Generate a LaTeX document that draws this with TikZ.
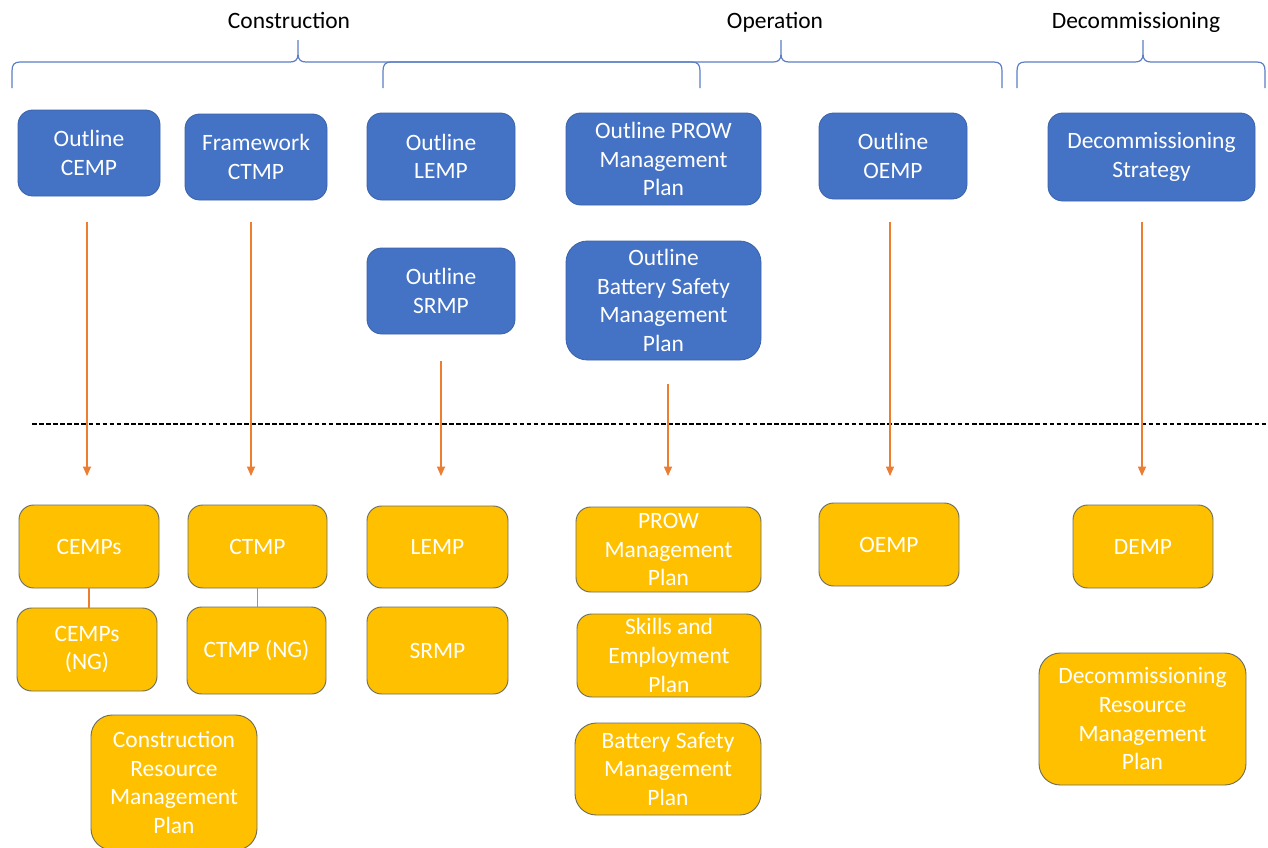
\documentclass[tikz,border=0pt]{standalone}
\usepackage{fontspec}
\setmainfont{Carlito}
\usetikzlibrary{arrows.meta}
\definecolor{bblue}{HTML}{4472C4}
\definecolor{bborder}{HTML}{3A62A8}
\definecolor{yfill}{HTML}{FFC000}
\definecolor{yborder}{HTML}{6E6E5C}
\definecolor{arrc}{HTML}{ED7D31}
\definecolor{brc}{HTML}{5B7EC6}
\newcommand\mkbox[7]{\node[#2, minimum width={(#5-#3)*0.75pt}, minimum height={(#6-#4)*0.75pt}] (#1) at ({(#3+#5)/2},{(#4+#6)/2}) {#7};}
\newcommand\mkbrace[4]{% name, x0, tip, x1
  \draw[bracel] (#2,88) -- (#2,71) .. controls (#2,65) and ({#2+2},62) .. ({#2+8},62)
    -- ({#3-8},62) .. controls ({#3-3},62) and (#3,60) .. (#3,54) -- (#3,40)
    -- (#3,54) .. controls (#3,60) and ({#3+3},62) .. ({#3+8},62)
    -- ({#4-8},62) .. controls ({#4-2},62) and (#4,65) .. (#4,71) -- (#4,88);
  \coordinate (#1) at (#3,40);}
\begin{document}
\begin{tikzpicture}[x=0.75pt,y=-0.75pt,
  txt/.style={font=\fontsize{17.6pt}{21.5pt}\selectfont, align=center},
  bluebox/.style={txt, rectangle, rounded corners=11pt, fill=bblue, draw=bborder, line width=0.6pt, text=white, inner sep=0pt, outer sep=0pt},
  yelbox/.style={txt, rectangle, rounded corners=11pt, fill=yfill, draw=yborder, line width=0.7pt, text=white, inner sep=0pt, outer sep=0pt},
  bigr/.style={rounded corners=16pt},
  arr/.style={draw=arrc, line width=0.8pt, -{Triangle[length=7pt,width=6pt]}},
  link/.style={draw=arrc, line width=0.8pt},
  bracel/.style={draw=brc, line width=0.9pt},
  phase/.style={txt, text=black, inner sep=0pt, anchor=base}]
\useasboundingbox (0,0) rectangle (1268,847);

% phase braces and labels
\mkbrace{bc}{12}{298}{700}
\mkbrace{bo}{383}{781}{1002}
\mkbrace{bd}{1017}{1143}{1265}
\node[phase] (lc) at (289,28) {Construction};
\node[phase] (lo) at (775,28) {Operation};
\node[phase] (ld) at (1136,28) {Decommissioning};

% divider
\coordinate (dl) at (32,424);
\coordinate (dr) at (1268,424);
\draw[black, line width=0.8pt, dash pattern=on 3.5pt off 1.8pt] (dl) -- (dr);

% outline documents (blue)
\mkbox{ocemp}{bluebox}{18}{110}{160}{196}{Outline\\CEMP}
\mkbox{fctmp}{bluebox}{185}{114}{327}{200}{Framework\\CTMP}
\mkbox{olemp}{bluebox}{367}{113}{515}{200}{Outline\\LEMP}
\mkbox{oprow}{bluebox}{566}{113}{761}{205}{Outline PROW\\Management\\Plan}
\mkbox{ooemp}{bluebox}{819}{113}{967}{199}{Outline\\OEMP}
\mkbox{dstrat}{bluebox}{1048}{113}{1255}{201}{Decommissioning\\Strategy}
\mkbox{osrmp}{bluebox}{367}{248}{515}{334}{Outline\\SRMP}
\mkbox{obatt}{bluebox,bigr}{566}{241}{761}{360}{Outline\\Battery Safety\\Management\\Plan}

% detailed documents (yellow)
\mkbox{cemps}{yelbox}{19}{505}{159}{588}{CEMPs}
\mkbox{ctmp}{yelbox}{188}{505}{327}{588}{CTMP}
\mkbox{lemp}{yelbox}{367}{506}{508}{588}{LEMP}
\mkbox{prow}{yelbox}{576}{507}{761}{592}{PROW\\Management\\Plan}
\mkbox{oemp}{yelbox}{819}{503}{959}{586}{OEMP}
\mkbox{demp}{yelbox}{1073}{505}{1213}{588}{DEMP}
\mkbox{cempsng}{yelbox}{17}{608}{157}{691}{CEMPs\\(NG)}
\mkbox{ctmpng}{yelbox}{187}{607}{326}{694}{CTMP (NG)}
\mkbox{srmp}{yelbox}{367}{607}{508}{694}{SRMP}
\mkbox{skills}{yelbox}{577}{614}{761}{697}{Skills and\\Employment\\Plan}
\mkbox{batt}{yelbox,bigr}{575}{723}{761}{815}{Battery Safety\\Management\\Plan}
\mkbox{crmp}{yelbox,bigr}{91}{715}{257}{850}{Construction\\Resource\\Management\\Plan}
\mkbox{drmp}{yelbox,bigr}{1039}{653}{1246}{785}{Decommissioning\\Resource\\Management\\Plan}

% links between construction plans
\draw[link] (cemps.south) -- (cemps.south |- cempsng.north);
\draw[link] (ctmp.south) -- (ctmp.south |- ctmpng.north);

% arrows from outline to detailed documents
\coordinate (a1s) at (87,222);   \coordinate (a1e) at (87,476);
\coordinate (a2s) at (251,222);  \coordinate (a2e) at (251,476);
\coordinate (a3s) at (441,361);  \coordinate (a3e) at (441,476);
\coordinate (a4s) at (668,384);  \coordinate (a4e) at (668,476);
\coordinate (a5s) at (890,222);  \coordinate (a5e) at (890,476);
\coordinate (a6s) at (1142,222); \coordinate (a6e) at (1142,476);
\foreach \i in {1,...,6} {\draw[arr] (a\i s) -- (a\i e);}
\end{tikzpicture}
\end{document}
